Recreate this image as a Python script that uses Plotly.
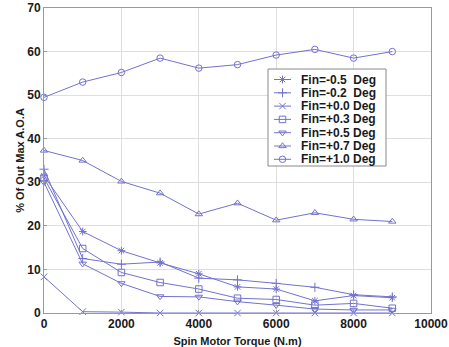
import plotly.graph_objects as go

torque = [0, 1000, 2000, 3000, 4000, 5000, 6000, 7000, 8000, 9000]

fin_m05 = [31.5, 18.7, 14.3, 11.5, 9.0, 6.0, 5.5, 2.8, 4.0, 3.5]
fin_m02 = [33.0, 12.5, 11.2, 11.7, 8.0, 7.6, 6.8, 5.9, 4.2, 3.7]
fin_p00 = [8.3, 0.3, 0.2, 0.0, 0.0, 0.0, 0.0, 0.0, 0.0, 0.0]
fin_p03 = [31.0, 14.8, 9.3, 7.0, 5.5, 3.4, 3.1, 1.8, 2.2, 1.1]
fin_p05 = [30.0, 11.3, 6.8, 3.8, 3.7, 2.6, 1.8, 0.9, 0.7, 0.7]
fin_p07 = [37.3, 35.0, 30.2, 27.5, 22.7, 25.2, 21.3, 23.0, 21.5, 21.0]
fin_p10 = [49.5, 53.0, 55.2, 58.5, 56.2, 57.0, 59.2, 60.5, 58.5, 60.0]

names = ["Fin=-0.5  Deg", "Fin=-0.2  Deg", "Fin=+0.0 Deg", "Fin=+0.3 Deg",
         "Fin=+0.5 Deg", "Fin=+0.7 Deg", "Fin=+1.0 Deg"]
values = [fin_m05, fin_m02, fin_p00, fin_p03, fin_p05, fin_p07, fin_p10]
symbols = ["asterisk-open", "cross-thin-open", "x-thin-open", "square-open",
           "triangle-down-open", "triangle-up-open", "circle-open"]

xticks = [0, 2000, 4000, 6000, 8000, 10000]
yticks = [0, 10, 20, 30, 40, 50, 60, 70]
XR = [0, 10000]
YR = [0, 70]

color = "#7272cf"
FONT = "Liberation Sans, Arial, sans-serif"

# plot area in pixels (layout constants)
W, H = 449, 347
L, R, T, B = 44, 18, 8, 34


def px2x(px):
    return XR[0] + (px - L) / (W - L - R) * (XR[1] - XR[0])


def py2y(py):
    return YR[0] + (H - B - py) / (H - T - B) * (YR[1] - YR[0])


fig = go.Figure()
for name, vals, sym in zip(names, values, symbols):
    fig.add_trace(go.Scatter(
        x=torque, y=vals, name=name, mode="lines+markers",
        line=dict(color=color, width=1),
        marker=dict(symbol=sym, size=6.5, color=color, line=dict(color=color, width=1)),
        cliponaxis=False, showlegend=False,
    ))

# custom compact legend (positions in pixels, converted to axis units)
box_x0, box_x1, box_y0, box_y1 = 268, 386, 69, 166
row0, row_dy = 79.5, 13.3
shapes = [dict(type="rect", xref="x", yref="y",
               x0=px2x(box_x0), x1=px2x(box_x1), y0=py2y(box_y0), y1=py2y(box_y1),
               line=dict(color="#8a8a8a", width=1), fillcolor="white", layer="between")]
annotations = []
for i, (name, sym) in enumerate(zip(names, symbols)):
    yy = py2y(row0 + i * row_dy)
    fig.add_trace(go.Scatter(
        x=[px2x(274), px2x(291)], y=[yy, yy], mode="lines",
        line=dict(color=color, width=1), showlegend=False, hoverinfo="skip"))
    fig.add_trace(go.Scatter(
        x=[px2x(282.5)], y=[yy], mode="markers",
        marker=dict(symbol=sym, size=6.5, color=color, line=dict(color=color, width=1)),
        showlegend=False, hoverinfo="skip"))
    annotations.append(dict(xref="x", yref="y", x=px2x(300), y=yy, text=name, showarrow=False,
                            xanchor="left", yanchor="middle", borderpad=0,
                            font=dict(family=FONT, size=12, color="#1a1a1a", weight="bold")))

fig.update_layout(
    width=W, height=H,
    margin=dict(l=L, r=R, t=T, b=B, autoexpand=False),
    paper_bgcolor="white", plot_bgcolor="white",
    font=dict(family=FONT, size=12, color="#222"),
    showlegend=False,
    shapes=shapes, annotations=annotations,
    xaxis=dict(
        range=XR, tickvals=xticks, ticktext=[str(v) for v in xticks], automargin=False,
        showgrid=True, gridcolor="#dedede", zeroline=False,
        showline=True, linecolor="#999", mirror=True,
        ticks="inside", ticklen=3, tickcolor="#999",
        tickfont=dict(size=12, weight="bold", color="#1a1a1a"),
        title=dict(text="Spin Motor Torque (N.m)", font=dict(size=11, weight="bold", color="#1a1a1a"), standoff=6),
    ),
    yaxis=dict(
        range=YR, tickvals=yticks, automargin=False,
        showgrid=True, gridcolor="#dedede", zeroline=False,
        showline=True, linecolor="#999", mirror=True,
        ticks="inside", ticklen=3, tickcolor="#999",
        tickfont=dict(size=12, weight="bold", color="#1a1a1a"),
        title=dict(text="% Of Out Max A.O.A", font=dict(size=11, weight="bold", color="#1a1a1a"), standoff=0),
    ),
)
fig.write_html("out.html")
